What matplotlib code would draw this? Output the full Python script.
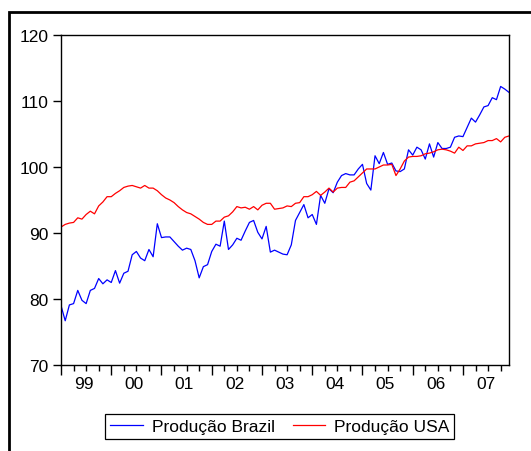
import matplotlib.pyplot as plt
from matplotlib.patches import Rectangle
import numpy as np

plt.rcParams['font.family'] = ['Liberation Sans', 'DejaVu Sans']

# monthly index, 1999:01 - 2007:12
years = ['99', '00', '01', '02', '03', '04', '05', '06', '07']

brazil = [79.0, 76.7, 79.1, 79.3, 81.3, 79.8, 79.3, 81.3, 81.6, 83.1, 82.3, 82.9,
          82.5, 84.3, 82.4, 83.9, 84.2, 86.7, 87.2, 86.2, 85.8, 87.5, 86.4, 91.4,
          89.3, 89.4, 89.4, 88.7, 88.0, 87.4, 87.7, 87.5, 85.8, 83.2, 84.9, 85.2,
          87.2, 88.3, 88.0, 91.8, 87.5, 88.2, 89.2, 88.9, 90.3, 91.6, 91.9, 90.1,
          89.1, 91.0, 87.1, 87.4, 87.1, 86.8, 86.7, 88.2, 91.9, 93.1, 94.3, 92.3,
          92.8, 91.3, 95.7, 94.5, 96.7, 96.1, 97.7, 98.7, 99.0, 98.8, 98.8, 99.7,
          100.4, 97.5, 96.5, 101.7, 100.5, 102.2, 100.4, 100.6, 99.4, 99.3, 99.7, 102.6,
          101.8, 103.0, 102.6, 101.2, 103.5, 101.5, 103.7, 102.8, 102.8, 103.0, 104.5, 104.7,
          104.6, 106.0, 107.4, 106.8, 107.9, 109.1, 109.3, 110.5, 110.2, 112.2, 111.8, 111.3]

usa = [90.9, 91.3, 91.5, 91.6, 92.3, 92.1, 92.8, 93.3, 92.9, 94.1, 94.7, 95.5,
       95.5, 96.0, 96.4, 96.9, 97.1, 97.2, 97.0, 96.8, 97.2, 96.8, 96.8, 96.4,
       95.8, 95.3, 95.0, 94.6, 94.0, 93.5, 93.1, 92.9, 92.5, 92.1, 91.6, 91.3,
       91.3, 91.8, 91.8, 92.4, 92.6, 93.2, 94.0, 93.8, 93.9, 93.6, 94.0, 93.5,
       94.2, 94.5, 94.5, 93.6, 93.7, 93.8, 94.1, 94.0, 94.5, 94.6, 95.5, 95.5,
       95.8, 96.3, 95.7, 96.2, 96.8, 96.2, 96.8, 96.9, 96.9, 97.7, 97.9, 98.5,
       99.1, 99.7, 99.7, 99.7, 100.0, 100.3, 100.3, 100.4, 98.7, 99.7, 100.9, 101.5,
       101.6, 101.6, 101.7, 102.0, 102.1, 102.3, 102.6, 102.7, 102.6, 102.4, 102.1, 103.0,
       102.5, 103.2, 103.2, 103.5, 103.6, 103.7, 104.0, 104.0, 104.3, 103.8, 104.5, 104.7]

months = np.arange(len(brazil))

fig = plt.figure(figsize=(5.31, 4.52), dpi=100)
ax = fig.add_axes([0.1149, 0.1903, 0.8437, 0.7301])

ax.plot(months, brazil, color='#0000ff', lw=0.9, label='Produção Brazil')
ax.plot(months, usa, color='#ff0000', lw=0.9, label='Produção USA')

ax.set_xlim(0, len(brazil) - 1)
ax.set_ylim(70, 120)
ax.set_yticks(np.arange(70, 121, 10))

# year boundaries as major ticks, quarters as minor ticks
ax.set_xticks(np.arange(0, len(brazil), 12))
ax.set_xticks(np.arange(0, len(brazil), 3), minor=True)
ax.set_xticklabels([])
ax.tick_params(axis='x', which='major', direction='out', length=7, width=1)
ax.tick_params(axis='x', which='minor', direction='out', length=4, width=1)
ax.tick_params(axis='y', direction='out', length=6, width=1, labelsize=12.5, pad=3)

for i, yr in enumerate(years):
    ax.text(12 * i + 5.5, -0.057, yr, transform=ax.get_xaxis_transform(),
            ha='center', va='center', fontsize=12.5)

for s in ax.spines.values():
    s.set_linewidth(1)

leg = fig.legend(loc='center', bbox_to_anchor=(0.527, 0.054), ncol=2, fontsize=12.5,
                 frameon=True, fancybox=False, edgecolor='black', framealpha=1,
                 handlelength=1.85, handletextpad=0.52, columnspacing=1.05,
                 borderpad=0.3, borderaxespad=0)
leg.get_frame().set_linewidth(0.9)

# outer frame, cut off on the right and bottom
fig.add_artist(Rectangle((8.5 / 531, -0.1), 1.2, 1 - 12.5 / 452 + 0.1,
                         transform=fig.transFigure, fill=False, lw=2, color='black'))

fig.savefig('out.png', dpi=100)
